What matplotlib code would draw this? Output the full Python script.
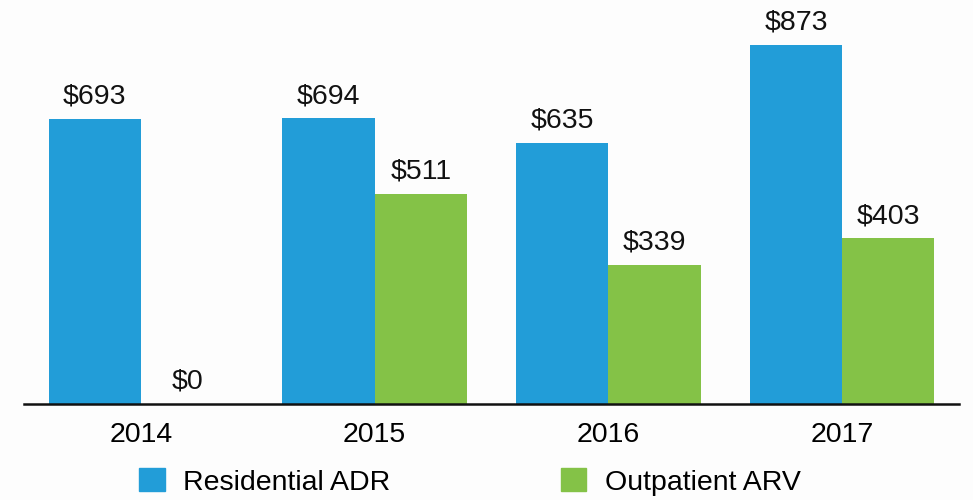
import matplotlib
matplotlib.use("Agg")
import matplotlib.pyplot as plt
import numpy as np
from matplotlib.patches import Patch

years = ["2014", "2015", "2016", "2017"]
residential_adr = [693, 694, 635, 873]
outpatient_arv = [0, 511, 339, 403]
series_names = ["Residential ADR", "Outpatient ARV"]
colors = ["#229dd8", "#84c247"]

plt.rcParams['font.family'] = ['Liberation Sans', 'DejaVu Sans']
FS = 20.5

fig = plt.figure(figsize=(9.73, 5.0), dpi=100, facecolor="#fdfdfd")
W, H = 973, 500
ax = fig.add_axes([24 / W, (H - 404) / H, (959 - 24) / W, 404 / H])
ax.set_facecolor("#fdfdfd")

x = np.arange(len(years))
bw = 0.395
b1 = ax.bar(x - bw / 2, residential_adr, bw, color=colors[0], label=series_names[0])
b2 = ax.bar(x + bw / 2, outpatient_arv, bw, color=colors[1], label=series_names[1])

for bars, vals in ((b1, residential_adr), (b2, outpatient_arv)):
    for rect, v in zip(bars, vals):
        ax.annotate(f"${v}", (rect.get_x() + rect.get_width() / 2, v),
                    xytext=(0, 6.5), textcoords="offset points",
                    ha="center", va="bottom", fontsize=FS, color="#111111")

ax.set_xlim(-0.5, 3.5)
ax.set_ylim(0, 982)
ax.set_xticks(x)
ax.set_xticklabels(years, fontsize=FS)
ax.tick_params(axis="x", length=0, pad=13)
ax.set_yticks([])
for s in ("top", "right", "left"):
    ax.spines[s].set_visible(False)
ax.spines["bottom"].set_linewidth(1.8)
ax.spines["bottom"].set_color("#111111")

handles = [Patch(color=c) for c in colors]
fig.legend(handles, series_names, loc="center", bbox_to_anchor=(470 / W, (H - 482) / H),
           ncol=2, frameon=False, fontsize=FS, handlelength=0.88, handleheight=0.85,
           handletextpad=0.65, columnspacing=6.0, borderpad=0)

fig.savefig("out.png", dpi=100, facecolor=fig.get_facecolor())
